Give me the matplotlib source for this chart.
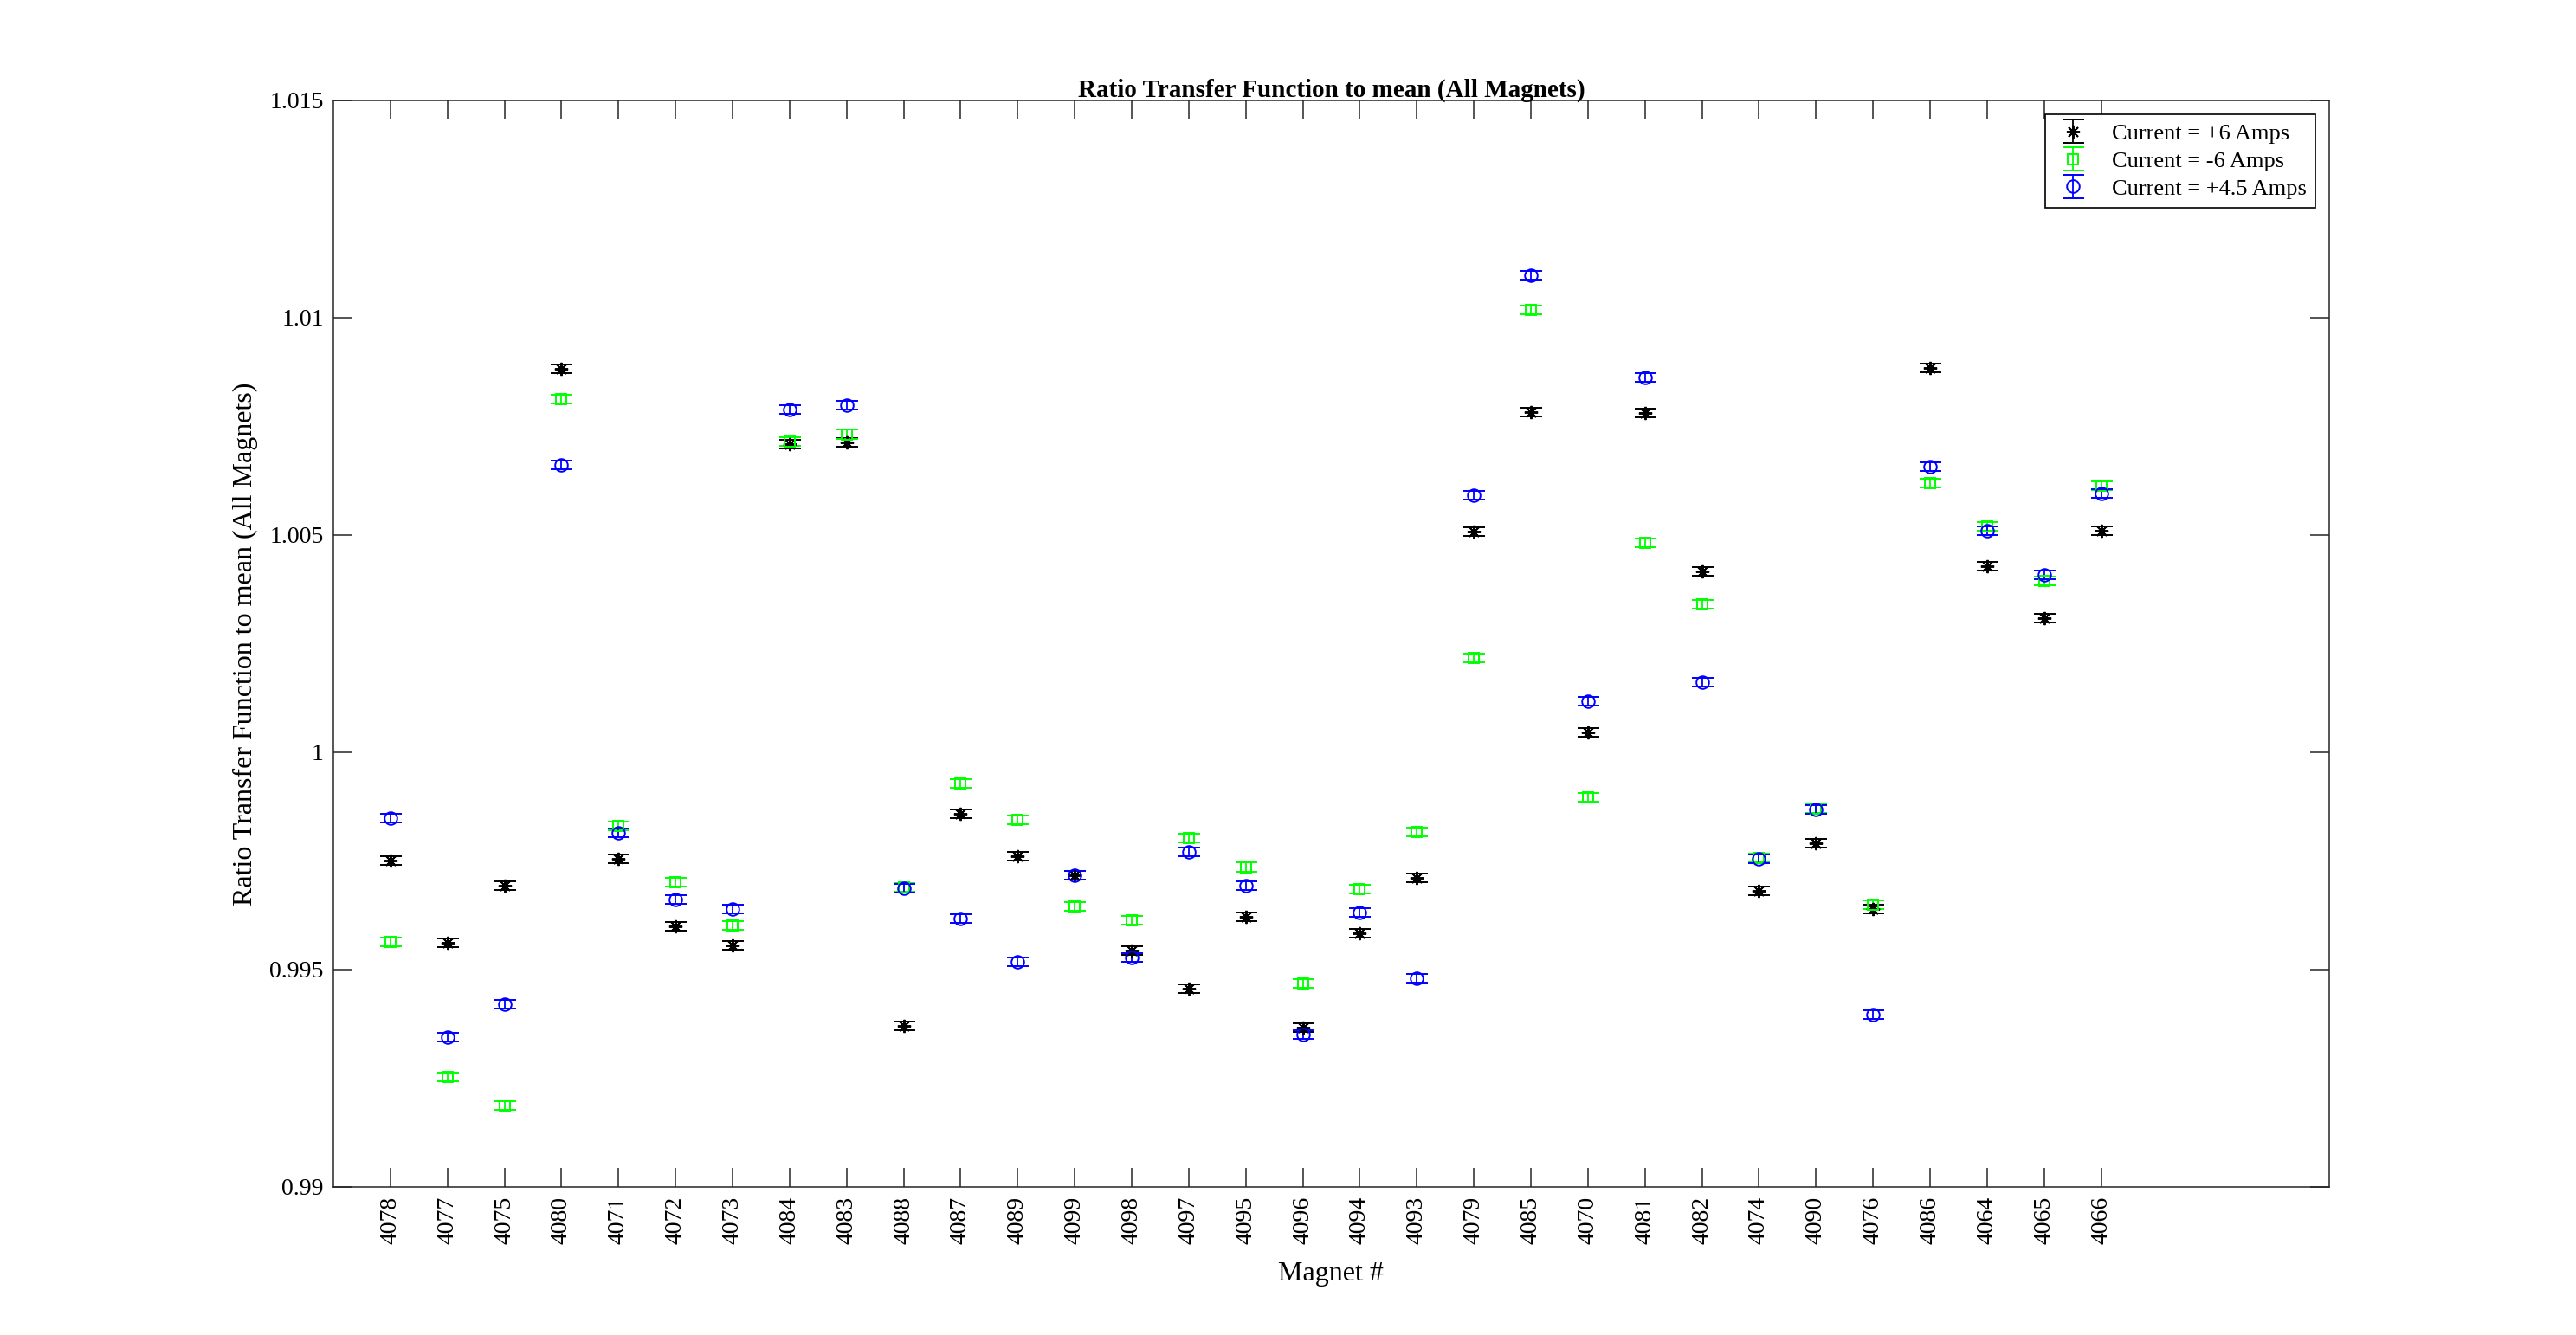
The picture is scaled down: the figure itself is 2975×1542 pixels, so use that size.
import matplotlib
matplotlib.use("Agg")
import matplotlib.pyplot as plt
import numpy as np

# --------------------------
# Datos
# --------------------------
magnets = ["4078", "4077", "4075", "4080", "4071", "4072", "4073", "4084", "4083", "4088",
           "4087", "4089", "4099", "4098", "4097", "4095", "4096", "4094", "4093", "4079",
           "4085", "4070", "4081", "4082", "4074", "4090", "4076", "4086", "4064", "4065",
           "4066"]

ratio_p6 = [0.99751, 0.99562, 0.99693, 1.00882, 0.99755, 0.99600, 0.99556, 1.00709, 1.00714, 0.99371,
            0.99859, 0.99760, 0.99718, 0.99544, 0.99456, 0.99622, 0.99367, 0.99584, 0.99711, 1.00508,
            1.00782, 1.00046, 1.00781, 1.00416, 0.99681, 0.99791, 0.99640, 1.00885, 1.00429, 1.00309,
            1.00510]

ratio_m6 = [0.99564, 0.99253, 0.99187, 1.00813, 0.99831, 0.99701, 0.99602, 1.00716, 1.00732, 0.99690,
            0.99929, 0.99845, 0.99645, 0.99614, 0.99803, 0.99736, 0.99469, 0.99686, 0.99817, 1.00218,
            1.01018, 0.99897, 1.00482, 1.00341, 0.99757, 0.99870, 0.99650, 1.00620, 1.00520, 1.00394,
            1.00613]

ratio_p45 = [0.99848, 0.99345, 0.99420, 1.00661, 0.99814, 0.99661, 0.99639, 1.00788, 1.00799, 0.99688,
             0.99618, 0.99517, 0.99718, 0.99527, 0.99771, 0.99694, 0.99351, 0.99632, 0.99481, 1.00592,
             1.01098, 1.00118, 1.00863, 1.00161, 0.99755, 0.99868, 0.99396, 1.00657, 1.00510, 1.00409,
             1.00596]

err_p6 = 0.0001
err_m6 = 0.0001
err_p45 = 0.0001

labels = ["Current = +6 Amps", "Current = -6 Amps", "Current = +4.5 Amps"]
yticks = [0.99, 0.995, 1.0, 1.005, 1.01, 1.015]
yticklabels = ["0.99", "0.995", "1", "1.005", "1.01", "1.015"]

# --------------------------
# Estilo
# --------------------------
plt.rcParams["font.family"] = ["Liberation Serif", "DejaVu Serif"]
plt.rcParams["font.size"] = 20
axcol = "#262626"

fig = plt.figure(figsize=(29.75, 15.42), dpi=100)
ax = fig.add_axes([0.1294, 0.1109, 0.7748, 0.8139])

x = np.arange(1, len(magnets) + 1)

ast = (8, 2, 0)  # asterisco tipo MATLAB
common = dict(linestyle="none", elinewidth=1.3, capsize=9, capthick=1.3, markeredgewidth=1.4)
h1 = ax.errorbar(x, ratio_p6, yerr=err_p6, marker=ast, markersize=11, color="black", **common)
h2 = ax.errorbar(x, ratio_m6, yerr=err_m6, marker="s", markersize=9, color="#00ff00",
                 markerfacecolor="none", **common)
h3 = ax.errorbar(x, ratio_p45, yerr=err_p45, marker="o", markersize=10.5, color="blue",
                 markerfacecolor="none", **common)

leg = ax.legend([h1, h2, h3], labels, loc="upper right", fontsize=19, fancybox=False,
                framealpha=1, edgecolor="black", borderaxespad=0.6, handlelength=1.6,
                labelspacing=0.32, borderpad=0.4, handletextpad=0.9)
leg.get_frame().set_linewidth(1.2)

# --------------------------
# Ejes
# --------------------------
ax.set_xlim(0, 35)
ax.set_ylim(0.99, 1.015)
ax.set_xticks(x)
ax.set_xticklabels(magnets, rotation=90)
ax.set_yticks(yticks)
ax.set_yticklabels(yticklabels)
ax.tick_params(direction="in", length=16, width=1.1, colors=axcol, labelcolor="black",
               top=True, right=True, pad=8)
for sp in ax.spines.values():
    sp.set_color(axcol)
    sp.set_linewidth(1.1)

ax.set_title("Ratio Transfer Function to mean (All Magnets)", fontsize=21, fontweight="bold", pad=3)
ax.set_xlabel("Magnet #", fontsize=23, labelpad=14)
ax.set_ylabel("Ratio Transfer Function to mean (All Magnets)", fontsize=23, labelpad=10)

plt.savefig("out.png", dpi=100)
plt.close()
